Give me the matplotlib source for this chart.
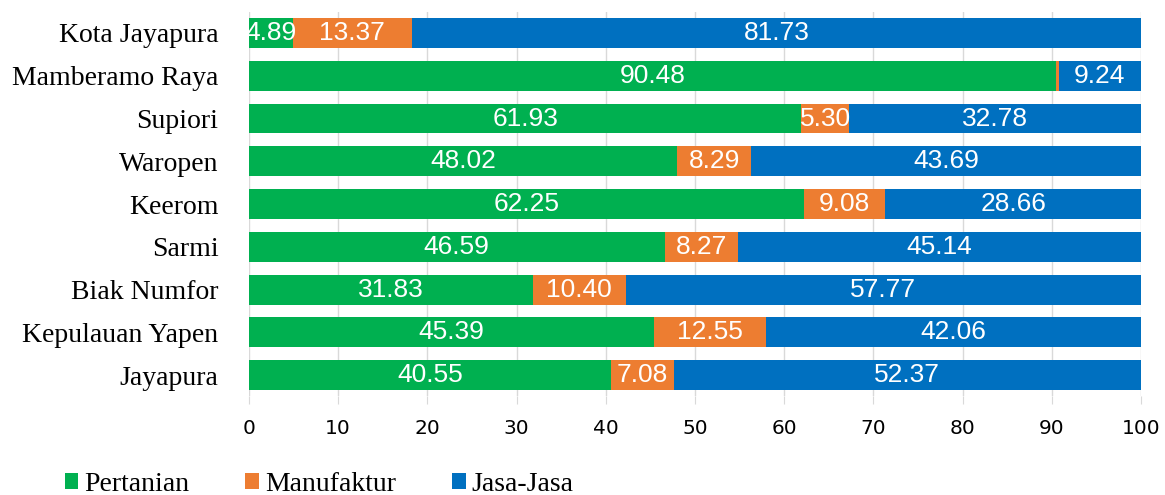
import matplotlib
matplotlib.use("Agg")
import matplotlib.pyplot as plt
import numpy as np

categories = ["Kota Jayapura", "Mamberamo Raya", "Supiori", "Waropen", "Keerom",
              "Sarmi", "Biak Numfor", "Kepulauan Yapen", "Jayapura"]
pertanian = [4.89, 90.48, 61.93, 48.02, 62.25, 46.59, 31.83, 45.39, 40.55]
manufaktur = [13.37, 0.28, 5.30, 8.29, 9.08, 8.27, 10.40, 12.55, 7.08]
jasa = [81.73, 9.24, 32.78, 43.69, 28.66, 45.14, 57.77, 42.06, 52.37]
series_names = ["Pertanian", "Manufaktur", "Jasa-Jasa"]
colors = ["#00B050", "#ED7D31", "#0070C0"]

fig = plt.figure(figsize=(11.65, 4.95), dpi=100)
ax = fig.add_axes([0.2137, 0.199, 0.7657, 0.7776])

y = np.arange(len(categories))
left = np.zeros(len(categories))
for name, vals, col in zip(series_names, [pertanian, manufaktur, jasa], colors):
    vals = np.array(vals)
    ax.barh(y, vals, left=left, height=0.7, color=col, label=name, zorder=3)
    for yi, l, v in zip(y, left, vals):
        if v >= 1:
            ax.text(l + v / 2, yi, f"{v:.2f}", ha="center", va="center",
                    color="white", fontsize=19, family="Liberation Sans", zorder=4)
    left += vals

ax.set_xlim(0, 100)
ax.set_ylim(len(categories) - 0.5, -0.5)
ax.set_xticks(range(0, 101, 10))
ax.set_yticks(y)
ax.set_yticklabels(categories, family="Liberation Serif", fontsize=20)
ax.tick_params(axis="y", length=0, pad=22)
ax.tick_params(axis="x", length=6, color="#D9D9D9", labelsize=14.5, pad=10)
for t in ax.get_xticklabels():
    t.set_family("DejaVu Sans")
ax.grid(axis="x", color="#D9D9D9", linewidth=1, zorder=0)
for s in ax.spines.values():
    s.set_visible(False)

leg = fig.legend(loc="lower left", bbox_to_anchor=(0.034, -0.055), ncol=3, frameon=False,
                 prop={"family": "Liberation Serif", "size": 20},
                 handlelength=0.5, handleheight=0.5, handletextpad=0.22, columnspacing=2.0)

fig.savefig("out.png", dpi=100)
